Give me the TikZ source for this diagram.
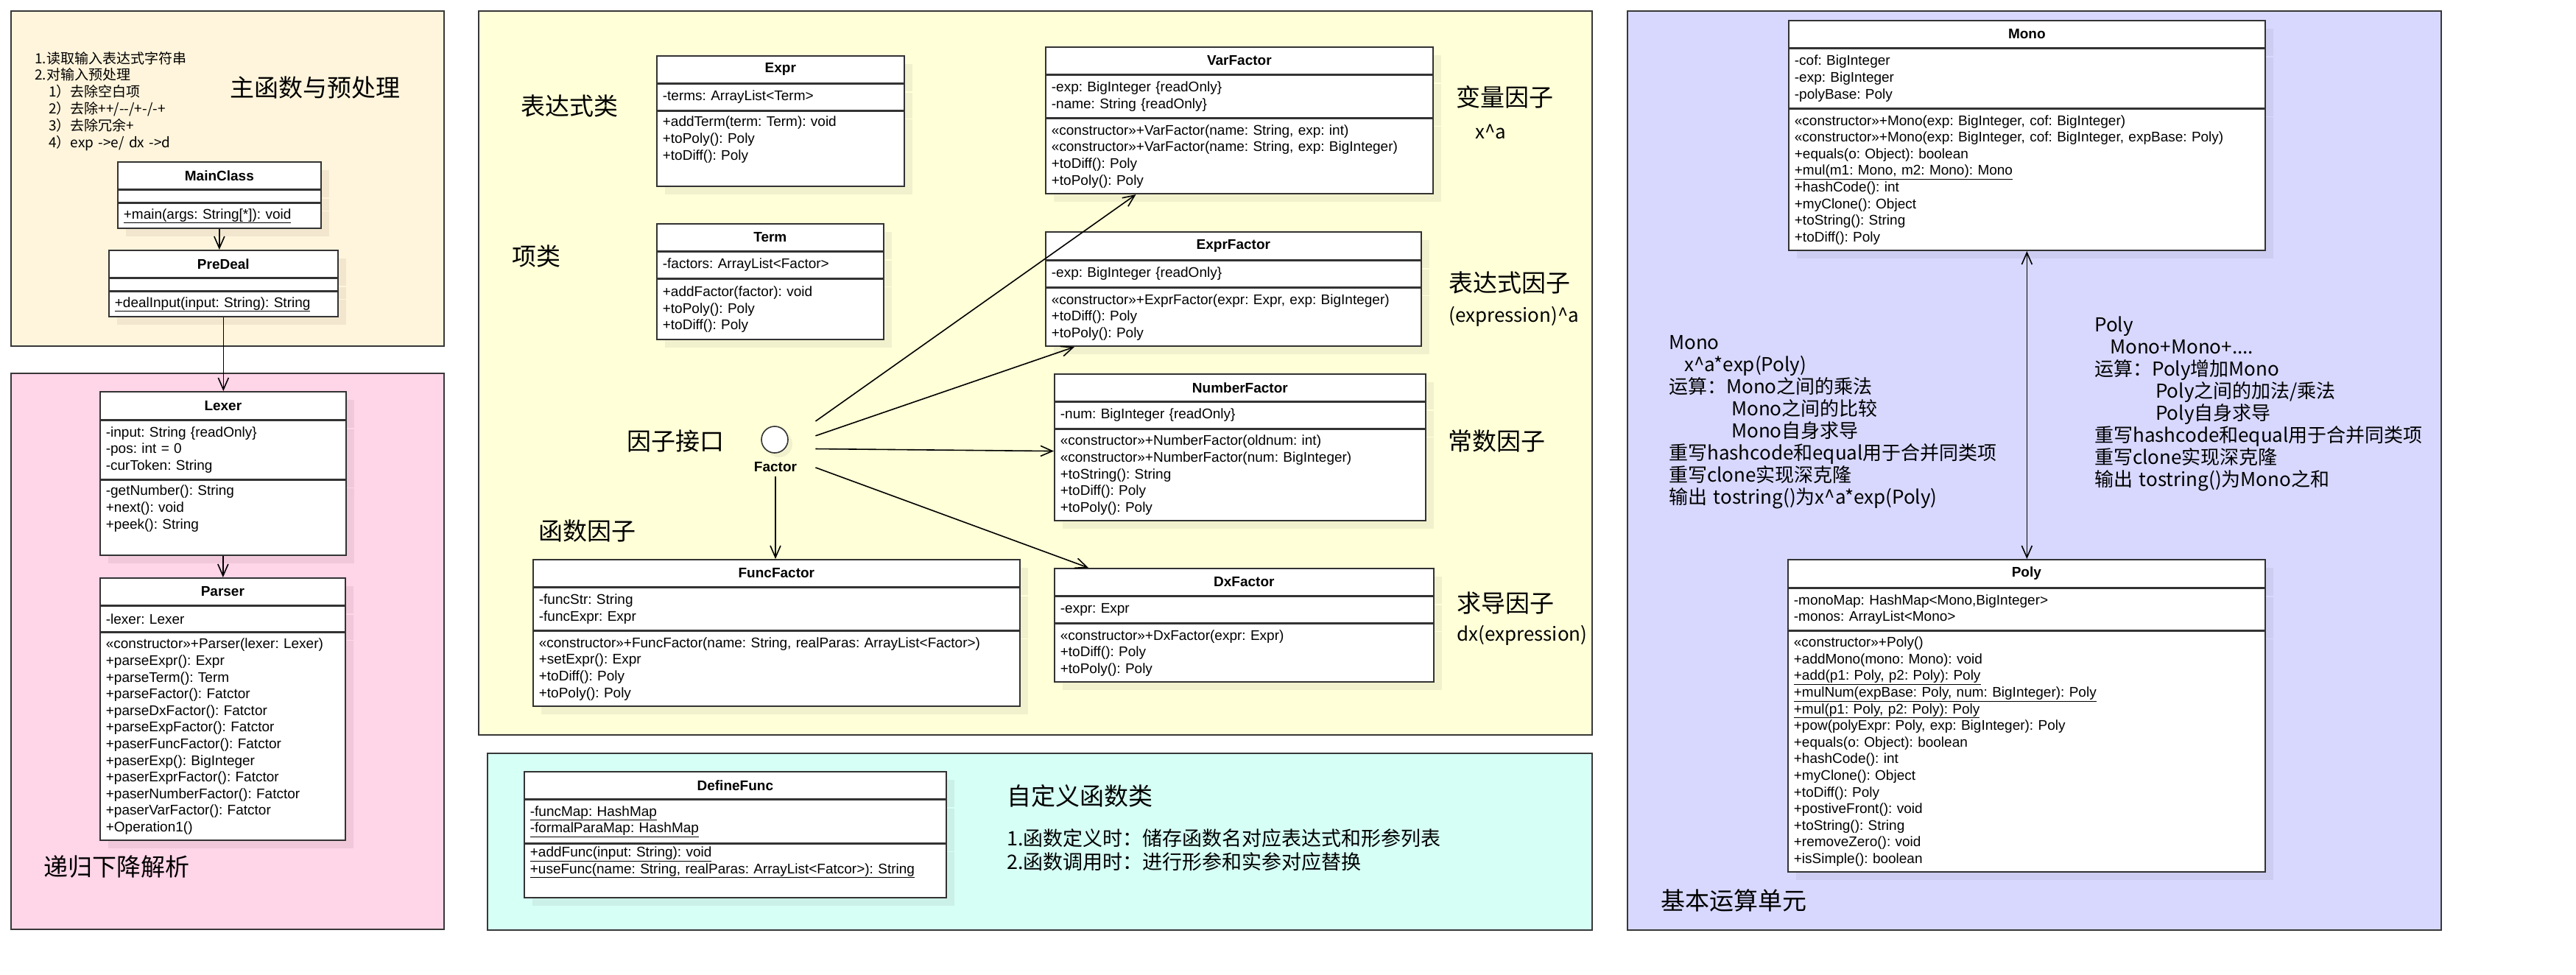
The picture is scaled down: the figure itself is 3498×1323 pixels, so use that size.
\documentclass[tikz,border=0pt]{standalone}
\usepackage{fontspec}
\setmainfont{Liberation Sans}
\newfontfamily\cjk{Noto Sans CJK SC}
\usepackage{tikz}
\usetikzlibrary{positioning,arrows.meta,fit,calc,shadows}

\definecolor{creamP}{RGB}{255,245,220}
\definecolor{creamS}{RGB}{242,231,206}
\definecolor{pinkP}{RGB}{255,213,232}
\definecolor{pinkS}{RGB}{240,200,218}
\definecolor{yellowP}{RGB}{255,255,216}
\definecolor{yellowS}{RGB}{241,241,205}
\definecolor{cyanP}{RGB}{214,255,245}
\definecolor{cyanS}{RGB}{203,240,231}
\definecolor{lavP}{RGB}{216,216,255}
\definecolor{lavS}{RGB}{205,205,241}
\colorlet{shdcol}{creamS}
\newcommand\umlfont{\fontsize{19}{22.6}\selectfont\frenchspacing}

\begin{document}
\begin{tikzpicture}[x=1pt, y=-1pt,
  panel/.style={draw=black!78, line width=2.6pt},
  cls/.style={draw=black!80, line width=1.7pt, fill=white, anchor=north west, inner xsep=8pt, inner ysep=0pt,
    minimum width=#1, text width=#1-16, font=\umlfont,
    drop shadow={shadow xshift=11pt, shadow yshift=-11pt, fill=shdcol, opacity=1}},
  hd/.style={cls=#1, align=center, font=\umlfont\bfseries},
  sec/.style={cls=#1, align=left},
  lab/.style={anchor=base west, inner sep=0pt, font=\cjk\fontsize{33}{38}\selectfont},
  sublab/.style={anchor=base west, inner sep=0pt, font=\cjk\fontsize{26}{30}\selectfont},
  note/.style={anchor=base west, inner sep=0pt, align=left, text width=#1},
  arr/.style={-{Straight Barb[length=16pt, width=14pt]}, line width=1.6pt}
]
\useasboundingbox (0,0) rectangle (3498,1323);
\fill[white] (0,0) rectangle (3498,1323);

\draw[panel, fill=creamP] (15,15) rectangle (603,470);
\draw[panel, fill=pinkP] (15,507) rectangle (603,1262);
\draw[panel, fill=yellowP] (650,15) rectangle (2162,998);
\draw[panel, fill=cyanP] (662,1023) rectangle (2162,1263);
\draw[panel, fill=lavP] (2210,15) rectangle (3315,1263);

% main + preprocessing
\colorlet{shdcol}{creamS}
\node[lab] (t-main) at (312,131) {主函数与预处理};
\node[note=330, font=\cjk\fontsize{19}{22.8}\selectfont] (prep-n) at (47,86) {1.读取输入表达式字符串\\2.对输入预处理\\\hspace*{19pt}1）去除空白项\\\hspace*{19pt}2）去除++/-{}-/+-/-+\\\hspace*{19pt}3）去除冗余+\\\hspace*{19pt}4）exp ->e/ dx ->d};
\node[hd=276, minimum height=37] (main) at (159,219) {MainClass};
\node[sec=276, minimum height=16, below=0pt of main] (main-a) {};
\node[sec=276, minimum height=34, below=0pt of main-a] (main-m) {\underline{+main(args: String[*]): void}};
\node[hd=311, minimum height=37] (predeal) at (147,339) {PreDeal};
\node[sec=311, minimum height=16, below=0pt of predeal] (predeal-a) {};
\node[sec=311, minimum height=34, below=0pt of predeal-a] (predeal-m) {\underline{+dealInput(input: String): String}};

% parsing
\colorlet{shdcol}{pinkS}
\node[hd=334, minimum height=38] (lexer) at (135,531) {Lexer};
\node[sec=334, minimum height=79, below=0pt of lexer] (lexer-a) {-input: String \{readOnly\}\\-pos: int = 0\\-curToken: String};
\node[sec=334, minimum height=102, below=0pt of lexer-a] (lexer-m) {-getNumber(): String\\+next(): void\\+peek(): String\\\strut};
\node[hd=333, minimum height=37] (parser) at (135,784) {Parser};
\node[sec=333, minimum height=34, below=0pt of parser] (parser-a) {-lexer: Lexer};
\node[sec=333, minimum height=282, below=0pt of parser-a] (parser-m) {«constructor»+Parser(lexer: Lexer)\\+parseExpr(): Expr\\+parseTerm(): Term\\+parseFactor(): Fatctor\\+parseDxFactor(): Fatctor\\+parseExpFactor(): Fatctor\\+paserFuncFactor(): Fatctor\\+paserExp(): BigInteger\\+paserExprFactor(): Fatctor\\+paserNumberFactor(): Fatctor\\+paserVarFactor(): Fatctor\\+Operation1()};
\node[lab] (t-parse) at (59,1189) {递归下降解析};

% expression classes
\colorlet{shdcol}{yellowS}
\node[lab] (t-expr) at (707,156) {表达式类};
\node[lab] (t-term) at (695,360) {项类};
\node[lab] (t-iface) at (851,611) {因子接口};
\node[lab] (t-func) at (731,733) {函数因子};
\node[lab] (t-var) at (1977,144) {变量因子};
\node[sublab] (s-var) at (2003,188) {x\textasciicircum a};
\node[lab] (t-exprf) at (1967,396) {表达式因子};
\node[sublab] (s-exprf) at (1967,437) {(expression)\textasciicircum a};
\node[lab] (t-num) at (1966,611) {常数因子};
\node[lab] (t-dx) at (1978,831) {求导因子};
\node[sublab] (s-dx) at (1978,870) {dx(expression)};

\node[hd=336, minimum height=37] (expr) at (891,75) {Expr};
\node[sec=336, minimum height=35, below=0pt of expr] (expr-a) {-terms: ArrayList<Term>};
\node[sec=336, minimum height=102, below=0pt of expr-a] (expr-m) {+addTerm(term: Term): void\\+toPoly(): Poly\\+toDiff(): Poly\\\strut};
\node[hd=308, minimum height=37] (term) at (891,303) {Term};
\node[sec=308, minimum height=35, below=0pt of term] (term-a) {-factors: ArrayList<Factor>};
\node[sec=308, minimum height=82, below=0pt of term-a] (term-m) {+addFactor(factor): void\\+toPoly(): Poly\\+toDiff(): Poly};
\node[hd=526, minimum height=37] (var) at (1419,63) {VarFactor};
\node[sec=526, minimum height=57, below=0pt of var] (var-a) {-exp: BigInteger \{readOnly\}\\-name: String \{readOnly\}};
\node[sec=526, minimum height=102, below=0pt of var-a] (var-m) {«constructor»+VarFactor(name: String, exp: int)\\«constructor»+VarFactor(name: String, exp: BigInteger)\\+toDiff(): Poly\\+toPoly(): Poly};
\node[hd=510, minimum height=38] (exprf) at (1419,314) {ExprFactor};
\node[sec=510, minimum height=35, below=0pt of exprf] (exprf-a) {-exp: BigInteger \{readOnly\}};
\node[sec=510, minimum height=79, below=0pt of exprf-a] (exprf-m) {«constructor»+ExprFactor(expr: Expr, exp: BigInteger)\\+toDiff(): Poly\\+toPoly(): Poly};
\node[hd=504, minimum height=37] (num) at (1431,507) {NumberFactor};
\node[sec=504, minimum height=35, below=0pt of num] (num-a) {-num: BigInteger \{readOnly\}};
\node[sec=504, minimum height=124, below=0pt of num-a] (num-m) {«constructor»+NumberFactor(oldnum: int)\\«constructor»+NumberFactor(num: BigInteger)\\+toString(): String\\+toDiff(): Poly\\+toPoly(): Poly};
\node[hd=661, minimum height=37] (func) at (723,759) {FuncFactor};
\node[sec=661, minimum height=57, below=0pt of func] (func-a) {-funcStr: String\\-funcExpr: Expr};
\node[sec=661, minimum height=102, below=0pt of func-a] (func-m) {«constructor»+FuncFactor(name: String, realParas: ArrayList<Factor>)\\+setExpr(): Expr\\+toDiff(): Poly\\+toPoly(): Poly};
\node[hd=515, minimum height=37] (dx) at (1431,771) {DxFactor};
\node[sec=515, minimum height=35, below=0pt of dx] (dx-a) {-expr: Expr};
\node[sec=515, minimum height=79, below=0pt of dx-a] (dx-m) {«constructor»+DxFactor(expr: Expr)\\+toDiff(): Poly\\+toPoly(): Poly};

\node[circle, draw=black!80, fill=white, line width=1.6pt, minimum size=36, inner sep=0pt,
  drop shadow={shadow xshift=6pt, shadow yshift=-6pt, fill=yellowS, opacity=1}] (fcirc) at (1052,597) {};
\node[font=\umlfont\bfseries, inner sep=0pt] (fname) at (1053,634) {Factor};
\node[fit=(fcirc)(fname), inner xsep=25pt, inner ysep=6pt] (factor) {};

% user functions
\colorlet{shdcol}{cyanS}
\node[hd=573, minimum height=37] (deff) at (711,1047) {DefineFunc};
\node[sec=573, minimum height=58, below=0pt of deff] (deff-a) {\underline{-funcMap: HashMap}\\\underline{-formalParaMap: HashMap}};
\node[sec=573, minimum height=73, below=0pt of deff-a] (deff-m) {\underline{+addFunc(input: String): void}\\\underline{+useFunc(name: String, realParas: ArrayList<Fatcor>): String}\\\strut};
\node[lab] (t-deff) at (1367,1093) {自定义函数类};
\node[note=760, font=\cjk\fontsize{27}{32}\selectfont] (deff-n) at (1367,1148) {1.函数定义时：储存函数名对应表达式和形参列表\\2.函数调用时：进行形参和实参对应替换};

% basic units
\colorlet{shdcol}{lavS}
\node[hd=647, minimum height=37] (mono) at (2428,27) {Mono};
\node[sec=647, minimum height=80, below=0pt of mono] (mono-a) {-cof: BigInteger\\-exp: BigInteger\\-polyBase: Poly};
\node[sec=647, minimum height=192, below=0pt of mono-a] (mono-m) {«constructor»+Mono(exp: BigInteger, cof: BigInteger)\\«constructor»+Mono(exp: BigInteger, cof: BigInteger, expBase: Poly)\\+equals(o: Object): boolean\\\underline{+mul(m1: Mono, m2: Mono): Mono}\\+hashCode(): int\\+myClone(): Object\\+toString(): String\\+toDiff(): Poly};
\node[hd=648, minimum height=38] (poly) at (2427,759) {Poly};
\node[sec=648, minimum height=56, below=0pt of poly] (poly-a) {-monoMap: HashMap<Mono,BigInteger>\\-monos: ArrayList<Mono>};
\node[sec=648, minimum height=327, below=0pt of poly-a] (poly-m) {«constructor»+Poly()\\+addMono(mono: Mono): void\\\underline{+add(p1: Poly, p2: Poly): Poly}\\\underline{+mulNum(expBase: Poly, num: BigInteger): Poly}\\\underline{+mul(p1: Poly, p2: Poly): Poly}\\+pow(polyExpr: Poly, exp: BigInteger): Poly\\+equals(o: Object): boolean\\+hashCode(): int\\+myClone(): Object\\+toDiff(): Poly\\+postiveFront(): void\\+toString(): String\\+removeZero(): void\\+isSimple(): boolean};
\node[note=470, font=\cjk\fontsize{26}{30}\selectfont] (mono-n) at (2266,474) {Mono\\\hspace*{21pt}x\textasciicircum a*exp(Poly)\\运算：Mono之间的乘法\\\hspace*{85pt}Mono之间的比较\\\hspace*{85pt}Mono自身求导\\重写hashcode和equal用于合并同类项\\重写clone实现深克隆\\输出 tostring()为x\textasciicircum a*exp(Poly)};
\node[note=450, font=\cjk\fontsize{26}{30}\selectfont] (poly-n) at (2844,450) {Poly\\\hspace*{21pt}Mono+Mono+....\\运算：Poly增加Mono\\\hspace*{83pt}Poly之间的加法/乘法\\\hspace*{83pt}Poly自身求导\\重写hashcode和equal用于合并同类项\\重写clone实现深克隆\\输出 tostring()为Mono之和};
\node[lab] (t-unit) at (2255,1235) {基本运算单元};

\draw[arr] (main-m.south) -- (main-m.south |- predeal.north);
\draw[arr] (predeal-m.south) -- (predeal-m.south |- lexer.north);
\draw[arr] (lexer-m.south) -- (lexer-m.south |- parser.north);
\draw[arr] (factor.north east) -- ($(var-m.south west)!0.234!(var-m.south east)$);
\draw[arr] (factor.18) -- ($(exprf-m.south west)!0.078!(exprf-m.south east)$);
\draw[arr] (factor.east) -- ($(num-m.north west)!0.24!(num-m.south west)$);
\draw[arr] (factor.-25) -- ($(dx.north west)!0.091!(dx.north east)$);
\draw[arr] (factor.south) -- (factor.south |- func.north);
\draw[arr, {Straight Barb[length=16pt, width=14pt]}-{Straight Barb[length=16pt, width=14pt]}] (mono-m.south) -- (mono-m.south |- poly.north);
\end{tikzpicture}
\end{document}
